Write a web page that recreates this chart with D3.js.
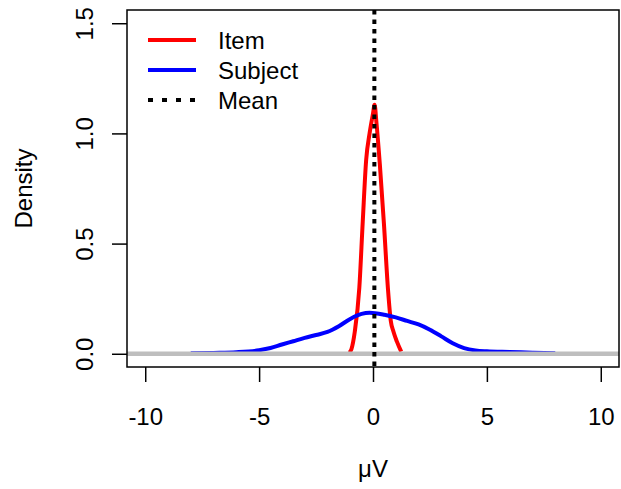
<!DOCTYPE html>
<html>
<head>
<meta charset="utf-8">
<script src="https://cdn.jsdelivr.net/npm/d3@7"></script>
<style>
  body { margin: 0; background: #fff; }
  text { font-family: "Liberation Sans", Arial, sans-serif; }
</style>
</head>
<body>
<script>
// density estimates
var itemX = [-1.05, -0.95, -0.8, -0.6, -0.45, -0.3, -0.15, 0.0, 0.07, 0.15, 0.3, 0.48, 0.66, 0.78, 0.9, 1.05, 1.24]
var itemY = [0.005, 0.02, 0.1, 0.3, 0.6, 0.88, 1.0, 1.09, 1.13, 1.05, 0.86, 0.59, 0.29, 0.15, 0.1, 0.055, 0.01]

var subjX = [-8, -7, -6, -5, -4.5, -4, -3.5, -3, -2.5, -2, -1.5, -1, -0.5, -0.15, 0.5, 1, 1.5, 2, 2.5, 3, 3.5, 4, 4.5, 5, 6, 7, 8]
var subjY = [0.002, 0.004, 0.007, 0.016, 0.026, 0.042, 0.057, 0.072, 0.085, 0.099, 0.125, 0.158, 0.181, 0.186, 0.177, 0.165, 0.149, 0.133, 0.109, 0.079, 0.048, 0.026, 0.015, 0.011, 0.008, 0.005, 0.002]

var meanX = 0.06

var xTicks = [-10, -5, 0, 5, 10]
var yTicks = [0, 0.5, 1, 1.5]
var legendLabels = ['Item', 'Subject', 'Mean']
var legendColors = ['#ff0000', '#0000ff', '#000000']

var width = 621, height = 489
var fs = 24
var x = d3.scaleLinear().domain([-10.8, 10.8]).range([127, 619])
var y = d3.scaleLinear().domain([-0.06, 1.56]).range([367, 10])

var svg = d3.select('body').append('svg')
    .attr('width', width)
    .attr('height', height)

svg.append('clipPath').attr('id', 'plotclip')
  .append('rect')
    .attr('x', x(-10.8)).attr('y', y(1.56))
    .attr('width', x(10.8) - x(-10.8))
    .attr('height', y(-0.06) - y(1.56))

var plot = svg.append('g').attr('clip-path', 'url(#plotclip)')

var line = d3.line()
    .x(function(d) { return x(d[0]) })
    .y(function(d) { return y(d[1]) })
    .curve(d3.curveMonotoneX)

plot.append('path')
    .datum(d3.zip(itemX, itemY))
    .attr('d', line)
    .attr('fill', 'none')
    .attr('stroke', legendColors[0])
    .attr('stroke-width', 4)

plot.append('path')
    .datum(d3.zip(subjX, subjY))
    .attr('d', line)
    .attr('fill', 'none')
    .attr('stroke', legendColors[1])
    .attr('stroke-width', 4)

// abline h=0
plot.append('line')
    .attr('x1', x(-10.8)).attr('x2', x(10.8))
    .attr('y1', y(0)).attr('y2', y(0))
    .attr('stroke', '#bebebe')
    .attr('stroke-width', 4.5)

plot.append('line')
    .attr('x1', x(meanX)).attr('x2', x(meanX))
    .attr('y1', y(1.56)).attr('y2', y(-0.06))
    .attr('stroke', '#000')
    .attr('stroke-width', 4)
    .attr('stroke-dasharray', '4.5 5')

// box
svg.append('rect')
    .attr('x', x(-10.8)).attr('y', y(1.56))
    .attr('width', x(10.8) - x(-10.8))
    .attr('height', y(-0.06) - y(1.56))
    .attr('fill', 'none')
    .attr('stroke', '#000')
    .attr('stroke-width', 1.5)

var xAxis = d3.axisBottom(x).tickValues(xTicks).tickSize(15).tickPadding(26)
    .tickFormat(d3.format('d'))
svg.append('g')
    .attr('transform', 'translate(0,367)')
    .call(xAxis)
    .call(function(g) {
      g.select('.domain').remove()
      g.selectAll('.tick line').attr('stroke-width', 1.5)
      g.selectAll('.tick text')
        .attr('font-size', fs)
        .attr('fill', '#000')
        .attr('font-family', 'Liberation Sans, Arial, sans-serif')
        .text(function(d) { return d < 0 ? '-' + Math.abs(d) : d })
    })

var yAxis = d3.axisLeft(y).tickValues(yTicks).tickSize(15)
    .tickFormat(d3.format('.1f'))
svg.append('g')
    .attr('transform', 'translate(127,0)')
    .call(yAxis)
    .call(function(g) {
      g.select('.domain').remove()
      g.selectAll('.tick line').attr('stroke-width', 1.5)
      g.selectAll('.tick text')
        .attr('x', null).attr('dy', null)
        .attr('transform', 'translate(-34,0) rotate(-90)')
        .attr('text-anchor', 'middle')
        .attr('font-size', fs)
        .attr('fill', '#000')
        .attr('font-family', 'Liberation Sans, Arial, sans-serif')
    })

svg.append('text')
    .attr('transform', 'translate(32,' + (y(-0.06) + y(1.56)) / 2 + ') rotate(-90)')
    .attr('text-anchor', 'middle')
    .attr('font-size', fs)
    .text('Density')

svg.append('text')
    .attr('x', x(0)).attr('y', 477)
    .attr('text-anchor', 'middle')
    .attr('font-size', fs)
    .text('\u03bcV')

// legend
var leg = svg.append('g')
legendLabels.forEach(function(lab, i) {
  var ly = 40 + i * 30
  leg.append('line')
      .attr('x1', 148).attr('x2', 196)
      .attr('y1', ly).attr('y2', ly)
      .attr('stroke', legendColors[i])
      .attr('stroke-width', 4)
      .attr('stroke-dasharray', i == 2 ? '5 9' : null)
  leg.append('text')
      .attr('x', 218).attr('y', ly + 9)
      .attr('font-size', fs)
      .text(lab)
})
</script>
</body>
</html>
